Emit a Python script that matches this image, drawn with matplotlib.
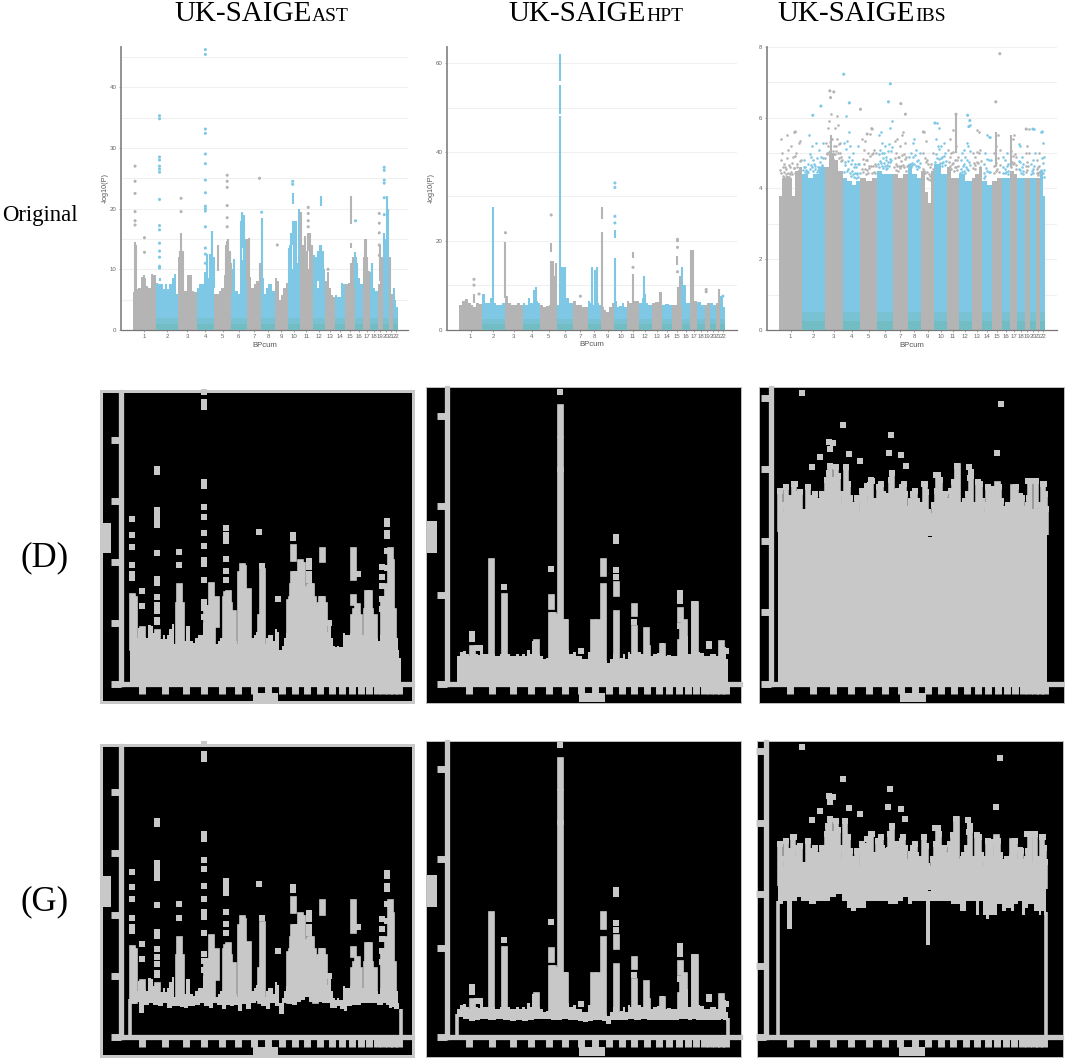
import matplotlib
matplotlib.use('Agg')
import matplotlib.pyplot as plt
from matplotlib.patches import Rectangle
import numpy as np

plt.rcParams['font.family'] = 'Liberation Sans'

GRAY = '#b4b4b4'
BLUE = '#7ec8e6'
TEAL = ['#72bcc4', '#79c2d4']
MASK = '#c8c8c8'
W, H = 1065, 1059

chrom_len = [249, 243, 198, 191, 181, 171, 159, 146, 141, 135, 135, 133, 115, 107, 102, 90, 81, 78, 59, 63, 48, 51]
chrom_names = [str(i) for i in range(1, 23)]

# ---------- AST ----------
ast_env = [[6.3, 6.8, 7, 8.7, 8.5, 7.2, 7, 9.2, 9], [7.8, 7.5, 7.5, 6.8, 7.5, 6.8, 7.5, 8.5, 9.3, 6],
           [12, 9, 6.5, 6.5, 9, 9, 6.5, 6.2], [7, 7.5, 7.5, 9.5, 8.5, 8, 7.5], [6, 6, 6.5, 7, 9, 9, 8],
           [10, 9.5, 6.5, 6, 8.5, 11, 11.5], [8.5, 8.8, 7, 7.5, 8, 7.5], [8.5, 6, 7, 7.5, 7.5, 6.5],
           [8.5, 8, 5, 5.8, 7, 7.8], [8.5, 8, 10, 10.5, 11, 14], [11, 14, 11, 13, 10, 9], [12, 9, 7, 12, 13, 10],
           [8, 9.5, 7, 5.8, 5.5], [5.8, 5.5, 5.5, 7.8, 7.5], [7.5, 7.8, 10.8], [12, 8.5, 7.5], [10, 10, 9.8],
           [9.5, 7, 6.5], [7.5, 8], [10.5, 10, 11], [7.8, 6], [7, 5, 3.8]]
ast_low = [[6.2, 6.2, 4.4, 5.8, 6], [5.8, 5.6, 6, 5.2, 5.6], [5.6, 5.4, 5.2, 5.6, 5.6], [5.8, 6, 5.6, 5.2],
           [6, 5.8, 5, 5.8], [5.5, 5.8, 4.8, 6], [5, 6, 6.4], [5.5, 5, 6], [5.6, 4.2, 6], [6.1, 5.8, 6.2],
           [6.6, 7, 6.2], [6.1, 6.2, 6], [6, 5.2, 5.2], [5.6, 5, 4.8], [5.5, 5.8], [5.8, 6.1], [6, 6.1], [6, 5.8],
           [5.8, 6], [5.8, 5.2], [5.4, 5], [5, 4.6]]
ast_col_chr = [1, 1, 2, 3, 4, 5, 5, 6, 6, 6, 7, 7, 8, 10, 10, 10, 11, 11, 11, 12, 12, 12, 15, 15, 15, 16, 17, 20, 20,
               1, 3, 3, 4, 4, 4, 5, 5, 5, 5, 6, 6, 6, 7, 10, 10, 10, 10, 10, 11, 11, 11, 11, 12, 12, 12, 12, 15, 16,
               17, 17, 17, 18, 19, 19, 20, 20, 21]
ast_col_frac = [.09, .5, .16, .15, .88, .2, .78, .2, .72, .72, .15, .9, .03, .1, .4, .4, .02, .65, .4, .1, .7, .7,
                .65, .65, .65, .05, .3, .2, .7,
                .15, .08, .25, .62, .75, .97, .7, .85, .95, 1.0, .62, .82, .92, .05, .2, .3, .5, .7, .9, .1, .3, .8,
                .95, .25, .45, .6, .85, .85, .25, .15, .45, .6, .15, .5, .8, .5, .9, .2]
ast_col_lo = [6, 7, 8, 6, 7, 9.8, 6, 6, 13.5, 6, 8, 6, 6, 6, 14, 20.7, 8, 13, 8, 6, 9, 20.5, 17.5, 13.5, 7, 7, 7, 8, 13,
              6, 6, 6, 7, 7, 7, 6, 6, 6, 6, 6, 6, 6, 8, 6, 8, 8, 8, 8, 8, 8, 8, 8, 7, 8, 8, 8, 7, 7, 7, 7, 7, 7, 8, 8,
              8, 8, 7]
ast_col_hi = [14.5, 9, 8.5, 16, 16.3, 14, 14.7, 11.7, 19.4, 11.5, 15.2, 11, 18.5, 13.5, 18, 22.5, 19.5, 16, 15.5, 12.3,
              14, 22, 22, 14.3, 11, 12.8, 15, 16, 22,
              14, 13, 13, 12.5, 12.5, 12, 14, 15, 13, 11, 18, 19, 15, 15, 14, 16, 18, 18, 20, 19.5, 14, 16, 14, 12,
              13, 14, 13, 12, 11, 12, 15, 12, 11, 14, 12, 15, 20, 12]
ast_pt_chr = [1, 1, 1, 1, 1, 1, 1, 1, 2, 2, 2, 2, 2, 2, 2, 2, 2, 2, 2, 2, 2, 2, 2, 3, 3, 4, 4, 4, 4, 4, 4, 4, 4, 4, 4,
              4, 4, 4, 4, 4, 5, 5, 5, 5, 5, 5, 7, 8, 9, 10, 10, 11, 11, 11, 11, 13, 16, 19, 19, 19, 19, 19, 20, 20, 20, 20, 20, 20]
ast_pt_frac = [.09, .09, .09, .09, .09, .09, .5, .5, .16, .16, .16, .16, .16, .16, .16, .16, .16, .16, .16, .16, .16, .16,
               .16, .15, .15, .5, .5, .5, .5, .5, .5, .5, .5, .5, .5, .5, .5, .5, .5, .5, .78, .78, .78, .78, .78, .78,
               .88, .03, .2, .4, .4, .65, .65, .65, .65, .3, .1, .3, .3, .3, .3, .3, .2, .2, .2, .2, .2, .2]
ast_pt_y = [27, 24.5, 22.5, 19.5, 18, 17.3, 15.2, 12.8, 35.3, 34.8, 28.5, 28, 27, 26.5, 26, 21.5, 17.2, 16.5, 14.3, 13, 12,
            10.5, 10.2, 21.7, 19.5, 46.2, 45.4, 33.1, 32.4, 29, 27.4, 24.7, 22.6, 20.4, 20, 19.6, 17, 13.5, 12.5, 11,
            25.5, 24.5, 23.5, 20.5, 18.5, 17, 25, 19.4, 14, 24.5, 24, 20.2, 19.2, 18, 17, 10, 18, 19.2, 17.6, 16, 14, 12.3,
            26.8, 26.3, 24.7, 24.2, 21.8, 19]
ast_extra_chr, ast_extra_frac, ast_extra_y = [4], [.5], [47.8]

# ---------- HPT ----------
hpt_env = [[5.5, 6.5, 6.8, 6, 5.5, 5, 6, 5.8], [8, 6, 6, 7, 6, 5.5, 5.5, 6], [7.5, 6, 5.5, 5.5, 6, 5.5],
           [6, 5.5, 7, 6, 9, 6.5, 6], [5.5, 5, 5.2, 5.5, 6, 10], [5.5, 9, 7, 6], [6.5, 5.5, 5.5, 5, 5],
           [6.5, 6, 5.5, 6, 5.5], [5, 4.5, 4, 5, 6], [6.5, 5, 5.2, 6, 5], [6.5, 6, 7.5, 6.5, 6.5], [6, 7, 6, 5.5],
           [6, 6.2, 8.5], [5.5, 5.8, 5.5], [5.5, 9], [10, 6], [6, 6.5], [6.2, 5.5], [5.5, 6], [6, 5.5], [6, 9], [7.5, 5]]
hpt_low = [[5.2, 4.6, 4.2, 4.5], [4.6, 4.5, 4.8], [4.5, 4.2, 4.4], [4.3, 4.5, 4.6], [4.7, 4.6, 4.4], [4.5, 4.6, 4.5],
           [4.4, 4.2, 4.1], [4.2, 4.5, 4.5], [4.3, 3.5, 4.4], [4.5, 4.4], [4.6, 4.5], [4.6, 4.5], [4.4, 4.5], [4.5, 4.4],
           [4.5, 4.6], [4.6, 4.5], [4.6, 4.5], [4.5, 4.4], [4.5, 4.4], [4.4, 4.5], [4.4, 4.6], [4.5, 4.3]]
hpt_col_chr = [1, 2, 3, 4, 5, 5, 5, 6, 6, 6, 6, 8, 9, 9, 10, 10, 11, 11, 12, 15, 15, 16, 17, 21,
               5, 5, 6, 6, 8, 8, 12, 13, 15, 17, 17]
hpt_col_frac = [.65, .47, .05, .75, .64, .64, .85, .2, .2, .2, .5, .55, .05, .05, .05, .05, .5, .5, .4, .57, .6, .05, .3, .6,
                .75, .95, .32, .42, .35, .7, .5, .8, .8, .2, .42]
hpt_col_lo = [6, 5, 7, 6, 17.5, 5, 5, 5, 48.5, 56, 5, 5, 25, 5, 20.5, 5, 16, 5, 5, 14.5, 5, 5, 5, 6,
              5, 5, 5, 5, 5, 5, 5, 5, 5, 5, 5]
hpt_col_hi = [8, 27.5, 19.8, 9.5, 19.5, 15.5, 12, 48, 55, 62, 14, 13.3, 27.5, 22, 22.5, 16, 17.5, 12.5, 12, 16.5, 9.5, 14, 18, 9.2,
              15.5, 15, 14, 14, 14, 14, 8, 8.5, 12, 18, 18]
hpt_pt_chr = [1, 1, 1, 3, 5, 7, 10, 10, 10, 10, 11, 15, 15, 15, 15, 19, 19, 22]
hpt_pt_frac = [.65, .65, .87, .05, .64, .5, .05, .05, .05, .05, .5, .57, .57, .57, .57, .3, .3, .55]
hpt_pt_y = [11.3, 10, 8, 21.8, 25.8, 7.5, 33, 32, 25.5, 24, 14, 20.3, 20, 18.5, 13, 9, 8.5, 7.5]
hpt_extra_chr, hpt_extra_frac, hpt_extra_y = [6], [.2], [65.4]

# ---------- IBS ----------
ibs_env = [[3.8, 4.3, 4.35, 4.3, 3.8, 4.5, 4.6], [4.4, 4.3, 4.4, 4.6], [4.6, 5, 4.8, 4.5], [4.3, 4.2, 4.1, 4.2],
           [4.3, 4.2, 4.3], [4.5, 4.4, 4.4], [4.4, 4.3, 4.4], [4.7, 4.4, 4.3], [4.5, 3.9, 3.6, 4.5], [4.7, 4.4],
           [4.6, 4.3, 4.3], [4.4, 4.2], [4.3, 4.4, 4.6], [4.2, 4.1], [4.2, 4.3], [4.3], [4.5, 4.4], [4.3], [4.3],
           [4.3], [4.3], [4.5, 3.8]]
ibs_low = [[3.8, 3.9, 3.1, 3.9, 4], [3.9, 3.8, 3.9], [3.9, 4, 4.1], [3.9, 3.7, 3.6, 3.7], [3.7, 3.9, 3.9],
           [3.9, 3.9, 3.8], [3.8, 3.9, 4], [3.8, 3.9, 3.9], [3.9, 2.65, 3.9], [3.9, 3.9], [3.9, 3.8, 3.8], [3.6, 3.9],
           [3.9, 3.5, 3.9], [3.5, 3.4, 3.5], [3.5, 3.8], [3.6, 3.7], [3.6, 3.8], [3.9, 3.5], [3.7, 3.8], [3.8, 3.6],
           [3.6, 3.5], [3.6, 3.5]]
ibs_upper = [[5.4, 5.0, 4.7, 4.6, 5.5, 5.1, 4.6, 5.2, 4.9, 5.6, 5.0, 4.7, 5.3, 5.35],
             [4.8, 4.6, 4.5, 5.5, 4.9, 5.2, 4.7, 5.3, 4.6, 5.1, 4.9, 5.3],
             [5.3, 5.7, 5.9, 6.1, 5.4, 5.2, 5.7, 6.05, 5.8, 5.3, 4.9],
             [5.3, 6.05, 5.35, 5.6, 5.2, 4.8, 5.0, 4.7, 4.6, 5.2, 4.7],
             [5.4, 5.1, 5.35, 4.8, 5.0, 5.55, 5.7, 5.0, 5.1, 5.0],
             [5.5, 5.1, 5.6, 5.3, 5.0, 5.2, 4.9, 5.05, 5.25, 5.7, 5.9],
             [5.35, 5.0, 5.4, 4.9, 5.2, 5.5, 5.6, 5.3, 4.9],
             [4.9, 5.0, 5.3, 5.4, 5.1, 4.8, 5.0],
             [5.0, 5.6, 5.35, 4.8, 4.7, 4.6, 4.7, 5.0],
             [5.4, 5.85, 5.7, 5.2, 4.9, 5.3, 5.0],
             [5.1, 5.4, 5.0, 5.65, 4.8, 5.2, 4.9],
             [4.8, 5.0, 5.1, 4.9, 5.3, 5.2, 5.8],
             [5.0, 4.9, 5.65, 5.6, 5.1],
             [4.7, 5.0, 5.5, 5.45, 5.45],
             [5.0, 5.2, 5.5, 5.1],
             [4.9, 4.8, 5.0, 4.7],
             [5.05, 5.4, 5.5, 4.9],
             [5.25, 5.2, 4.9, 4.7],
             [5.0, 5.2, 5.68],
             [4.7, 4.8, 5.68],
             [4.8, 4.6, 5.0],
             [5.6, 5.3, 4.9]]
ibs_col_chr = [3, 11, 15, 17]
ibs_col_frac = [.33, .74, .39, .2]
ibs_col_lo = [4.5, 5.0, 4.6, 4.6]
ibs_col_hi = [5.5, 6.1, 5.6, 5.5]
ibs_pt_chr = [4, 15, 6, 3, 3, 3, 2, 4, 5, 6, 7, 7, 2, 15, 11, 12, 12, 12, 10, 9, 19, 20, 22, 1, 5, 5]
ibs_pt_frac = [.05, .82, .83, .29, .51, .33, .84, .37, .0, .71, .53, .84, .48, .39, .74, .68, .86, .78, .05, .17, .31, .5, .43, .71, .7, .4]
ibs_pt_y = [7.23, 7.81, 6.96, 6.76, 6.73, 6.57, 6.33, 6.42, 6.24, 6.45, 6.4, 6.1, 6.07, 6.45, 6.1, 6.07, 5.92, 5.75, 5.85, 5.6,
            5.68, 5.68, 5.6, 5.6, 5.68, 5.54]
ibs_extra_chr, ibs_extra_frac, ibs_extra_y = [2], [.04], [8.13]

ast = dict(env=ast_env, low=ast_low, col=(ast_col_chr, ast_col_frac, ast_col_lo, ast_col_hi),
           pt=(ast_pt_chr, ast_pt_frac, ast_pt_y), extra=(ast_extra_chr, ast_extra_frac, ast_extra_y), upper=None)
hpt = dict(env=hpt_env, low=hpt_low, col=(hpt_col_chr, hpt_col_frac, hpt_col_lo, hpt_col_hi),
           pt=(hpt_pt_chr, hpt_pt_frac, hpt_pt_y), extra=(hpt_extra_chr, hpt_extra_frac, hpt_extra_y), upper=None)
ibs = dict(env=ibs_env, low=ibs_low, col=(ibs_col_chr, ibs_col_frac, ibs_col_lo, ibs_col_hi),
           pt=(ibs_pt_chr, ibs_pt_frac, ibs_pt_y), extra=(ibs_extra_chr, ibs_extra_frac, ibs_extra_y), upper=ibs_upper)

edges = np.concatenate([[0], np.cumsum(chrom_len)])
total = edges[-1]
centers = (edges[:-1] + edges[1:]) / 2


def gpos(chrs, fracs):
    chrs = np.array(chrs, dtype=int) - 1
    return edges[chrs] + np.array(fracs) * np.array(chrom_len)[chrs]


def px_axes(fig, left, right, top, bottom):
    return fig.add_axes([left / W, 1 - bottom / H, (right - left) / W, (bottom - top) / H])


def set_limits(ax, left, right, top, bottom, d0, d1, per_unit):
    s = (d1 - d0) / total
    ax.set_xlim((left - d0) / s, (right - d0) / s)
    ax.set_ylim(0, (bottom - top) / per_unit)


def px_rect(fig, x0, y0, x1, y1, zorder=5, **kw):
    fig.add_artist(Rectangle((x0 / W, 1 - y1 / H), (x1 - x0) / W, (y1 - y0) / H,
                             transform=fig.transFigure, zorder=zorder, **kw))


def stairs_all(ax, lists, color_fn, shift=0, **kw):
    for i, vals in enumerate(lists):
        e = np.linspace(edges[i], edges[i + 1], len(vals) + 1)
        ax.stairs(np.array(vals) + shift, e, baseline=0, fill=True, color=color_fn(i), lw=0, **kw)


def original(fig, d, box, d0, d1, per_unit, yticks, grid, band, ylab_x):
    left, right, top, bottom = box
    ax = px_axes(fig, left, right, top, bottom)
    set_limits(ax, left, right, top, bottom, d0, d1, per_unit)
    colour = lambda i: GRAY if i % 2 == 0 else BLUE
    for g in grid:
        ax.axhline(g, color='#f0f0f0', lw=0.8, zorder=0)
    stairs_all(ax, d['env'], colour, zorder=2)
    for i in range(1, 22, 2):
        ax.bar(centers[i], band * 2, chrom_len[i], color=TEAL[1], lw=0, zorder=3)
        ax.bar(centers[i], band, chrom_len[i], color=TEAL[0], lw=0, zorder=3.1)
    cc, cf, lo, hi = d['col']
    x = gpos(cc, cf)
    ax.vlines(x, lo, hi, colors=[colour(c - 1) for c in cc], lw=1.5, zorder=2.5)
    pc, pf, py = d['pt']
    ax.scatter(gpos(pc, pf), py, s=5, c=[colour(c - 1) for c in pc], lw=0, zorder=2.5)
    if d['upper'] is not None:
        for i, vals in enumerate(d['upper']):
            xs = np.linspace(edges[i], edges[i + 1], len(vals) + 2)[1:-1]
            vals = np.array(vals)
            base = np.mean(d['env'][i])
            ax.scatter(xs, vals, s=3.5, color=colour(i), lw=0, zorder=2.5)
            ax.scatter(xs + chrom_len[i] * .03, (vals + base) / 2, s=3.5, color=colour(i), lw=0, zorder=2.5)
            ax.scatter(xs - chrom_len[i] * .03, (vals + 3 * base) / 4, s=3.5, color=colour(i), lw=0, zorder=2.5)
    for s in ['top', 'right']:
        ax.spines[s].set_visible(False)
    ax.spines['left'].set_color('#8a8a8a')
    ax.spines['left'].set_linewidth(1.3)
    ax.spines['bottom'].set_color('#777777')
    ax.spines['bottom'].set_linewidth(0.9)
    ax.set_xticks(centers)
    ax.set_xticklabels(chrom_names)
    ax.set_yticks(yticks)
    ax.tick_params(labelsize=4.4, colors='#666666', length=1.2, width=0.4, pad=2)
    ax.patch.set_alpha(0)
    ax.set_xlabel('BPcum', fontsize=5.6, color='#555555', labelpad=1.5)
    if ylab_x is not None:
        fig.text(ylab_x / W, 1 - 188 / H, '-log10(P)', rotation=90, fontsize=5.2,
                 color='#555555', ha='center', va='center')


def mask(fig, d, frame, box, d0, d1, per_unit, yticks, kind, label_blob, ylab_blob, border, top_pad):
    left, right, top, bottom = box
    px_rect(fig, *frame, zorder=-1, facecolor='black', edgecolor=MASK if border > 1.5 else '#bdbdbd',
            linewidth=border * .72)
    ax = px_axes(fig, left, right, top, bottom)
    set_limits(ax, left, right, top, bottom, d0, d1, per_unit)
    ax.patch.set_alpha(0)
    pad = 3 / per_unit
    stairs_all(ax, d['env'], lambda i: MASK, shift=top_pad, zorder=2)
    if kind == 'G':
        stairs_all(ax, d['low'], lambda i: 'black', shift=-pad, zorder=2.2)
        ax.vlines([0, total], 0, [d['low'][0][0], d['low'][-1][-1]], colors=MASK, lw=2.6, zorder=2.4)
    cc, cf, lo, hi = d['col']
    ax.vlines(gpos(cc, cf), lo, hi, colors=MASK, lw=4.8, zorder=3, capstyle='projecting')
    sq = dict(marker='s', s=21, color=MASK, lw=0, zorder=3, clip_on=False)
    pc, pf, py = d['pt']
    ax.scatter(gpos(pc, pf), py, **sq)
    ec, ef, ey = d['extra']
    ax.scatter(gpos(ec, ef), ey, **sq)
    if d['upper'] is not None:
        for i, vals in enumerate(d['upper']):
            xs = np.linspace(edges[i], edges[i + 1], len(vals) + 2)[1:-1]
            ax.vlines(xs, np.mean(d['env'][i]), vals, colors=MASK, lw=4, zorder=3)
            ax.scatter(xs, vals, **sq)
    for s in ['top', 'right']:
        ax.spines[s].set_visible(False)
    for s in ['left', 'bottom']:
        ax.spines[s].set_color(MASK)
        ax.spines[s].set_linewidth(3.8)
    ax.set_xticks(centers)
    ax.set_yticks(yticks)
    ax.tick_params(labelbottom=False, labelleft=False, color=MASK, length=7, width=5)
    px_rect(fig, *label_blob, facecolor=MASK, lw=0)
    if ylab_blob is not None:
        px_rect(fig, *ylab_blob, facecolor=MASK, lw=0)


fig = plt.figure(figsize=(W / 100, H / 100), dpi=100, facecolor='white')

# titles
title_pos = [312, 646, 915]
title_sub = ['AST', 'HPT', 'IBS']
for xp, sub in zip(title_pos, title_sub):
    fig.text(xp / W, 1 - 21 / H, 'UK-SAIGE', family='Liberation Serif', fontsize=21, ha='right', va='baseline')
    fig.text(xp / W, 1 - 21 / H, sub, family='Liberation Serif', fontsize=14, ha='left', va='baseline')

fig.text(2 / W, 1 - 215 / H, 'Original', family='Liberation Serif', fontsize=16.4, ha='left', va='center')
fig.text(21 / W, 1 - 558 / H, '(D)', family='Liberation Serif', fontsize=25, ha='left', va='center')
fig.text(21 / W, 1 - 902 / H, '(G)', family='Liberation Serif', fontsize=25, ha='left', va='center')

# top row
original(fig, ast, (121, 408, 47, 330), 133, 398, 6.07, [0, 10, 20, 30, 40], [5, 10, 15, 20, 25, 30, 35, 40, 45], 1.0, 105)
original(fig, hpt, (447, 737, 47, 329.5), 459, 725, 4.44, [0, 20, 40, 60], [10, 20, 30, 40, 50, 60], 1.2, 431)
original(fig, ibs, (767, 1057, 47, 330), 779, 1045, 35.5, [0, 2, 4, 6, 8], [1, 2, 3, 4, 5, 6, 7, 8], .25, None)

# D row
mask(fig, ast, (101, 391, 413, 702), (121, 412, 392, 684), 130, 401, 6.1, [0, 10, 20, 30, 40], 'D',
     (253, 693, 278, 702), (100, 523, 111, 553), 3, 0.5)
mask(fig, hpt, (426, 387, 741, 703), (447, 740, 388, 684), 457, 728, 4.46, [0, 20, 40, 60], 'D',
     (579, 693, 605, 702), (427, 521, 437, 553), 1, 0.7)
mask(fig, ibs, (759, 387, 1064, 703), (771, 1062, 388, 684), 778, 1047, 35.8, [0, 2, 4, 6, 8], 'D',
     (900, 693, 926, 702), None, 1, 0.5)

# G row
mask(fig, ast, (101, 745, 413, 1056), (121, 412, 746, 1037), 130, 401, 6.12, [0, 10, 20, 30, 40], 'G',
     (253, 1047, 278, 1056), (100, 876, 111, 907), 3, 0.5)
mask(fig, hpt, (426, 741, 741, 1057), (447, 740, 742, 1037), 457, 728, 4.46, [0, 20, 40, 60], 'G',
     (579, 1047, 605, 1056), (427, 875, 437, 907), 1, 0.7)
mask(fig, ibs, (757, 741, 1063, 1057), (766, 1061, 742, 1037), 778, 1046, 35.7, [0, 2, 4, 6, 8], 'G',
     (899, 1047, 925, 1056), None, 1, 0.5)

fig.savefig('out.png', dpi=100, facecolor='white')
